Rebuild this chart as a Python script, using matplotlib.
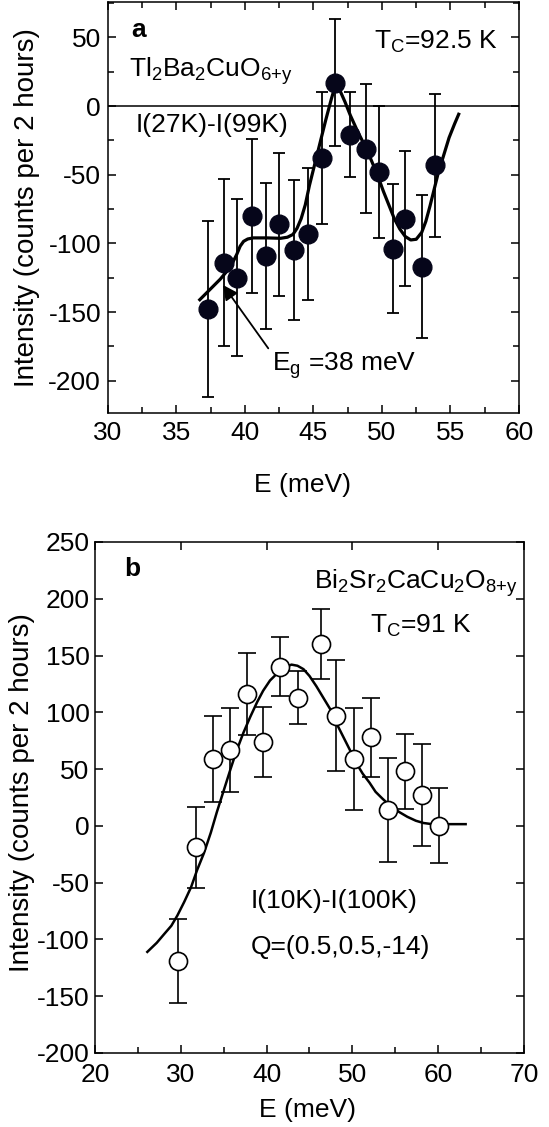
import matplotlib
matplotlib.use('Agg')
import matplotlib.pyplot as plt
from matplotlib.ticker import MultipleLocator

plt.rcParams['font.family'] = ['Liberation Sans', 'DejaVu Sans']
plt.rcParams['mathtext.default'] = 'regular'
plt.rcParams['axes.unicode_minus'] = False

# panel a: Tl2Ba2CuO6+y, I(27K)-I(99K)
E_a = [37.3, 38.5, 39.4, 40.5, 41.5, 42.5, 43.6, 44.6, 45.6, 46.6, 47.7,
       48.8, 49.8, 50.8, 51.7, 52.9, 53.9]
I_a = [-148, -114, -125, -80, -109, -86, -105, -93, -38, 17, -21,
       -31, -48, -104, -82, -117, -43]
err_a = [64, 61, 57, 56, 53, 52, 51, 48, 48, 46, 31,
         47, 48, 47, 49, 52, 52]
fitE_a = [36.7, 37.2, 37.7, 38.2, 38.7, 39.1, 39.4, 39.65, 39.9, 40.2, 40.6,
          41.6, 42.6, 43.1, 43.5, 43.8, 44.1, 44.4, 44.7, 45.1, 45.5, 45.9,
          46.3, 46.65, 46.9, 47.3, 47.7, 48.2, 48.7, 49.2, 49.7, 50.1, 50.5,
          50.9, 51.3, 51.7, 52.1, 52.5, 52.9, 53.2, 53.5, 53.8, 54.1, 54.5,
          54.9, 55.3, 55.6]
fitI_a = [-141, -136, -131, -126, -120, -114, -108, -102, -98.5, -96.8, -96,
          -96, -96.3, -95.5, -93.5, -89, -82, -72, -58, -42, -26, -10,
          5, 17, 12, 3, -7, -18, -28, -39, -51, -62, -72,
          -82, -89.5, -95, -97.5, -97, -92, -84, -73, -61, -49, -36,
          -23, -13, -6]

# panel b: Bi2Sr2CaCu2O8+y, I(10K)-I(100K)
E_b = [29.7, 31.8, 33.7, 35.7, 37.7, 39.6, 41.6, 43.7, 46.3, 48.1, 50.2,
       52.2, 54.1, 56.1, 58.1, 60.1]
I_b = [-119, -19, 59, 67, 116, 74, 140, 113, 160, 97, 59,
       78, 14, 48, 27, 0]
err_b = [37, 36, 38, 37, 36, 31, 26, 23, 31, 49, 45,
         35, 46, 33, 45, 33]
fitE_b = [26.1, 27.2, 28.1, 28.9, 29.6, 30.4, 31.2, 31.9, 32.7, 33.5, 34.2,
          35.0, 35.8, 36.5, 37.3, 38.1, 38.9, 39.6, 40.4, 41.2, 42.0, 42.9,
          43.6, 44.3, 45.0, 45.8, 46.6, 47.4, 48.1, 48.9, 49.7, 50.4, 51.2,
          52.0, 52.7, 53.5, 54.5, 55.5, 56.4, 57.4, 58.3, 59.3, 61.0, 63.2]
fitI_b = [-111, -103, -95, -88, -79, -67, -54, -39, -24, -6, 12,
          31, 50, 66, 82, 96, 109, 119, 128, 134, 139, 142,
          141, 138, 132, 123, 113, 103, 91, 79, 67, 56, 46,
          38, 30, 24, 17, 12, 8, 4.5, 2.5, 1.5, 1.5, 1.5]

fig = plt.figure(figsize=(5.49, 11.27), dpi=100)

# ---- panel a ----
ax1 = fig.add_axes([0.1967, 0.6335, 0.7486, 0.3647])
ax1.axhline(0, color='k', lw=1.1)
ax1.errorbar(E_a, I_a, yerr=err_a, fmt='o', ms=13.5, mfc='#06061a', mec='#06061a',
             ecolor='k', elinewidth=1.3, capsize=4.5, capthick=1.3)
ax1.plot(fitE_a, fitI_a, color='k', lw=2.3, solid_joinstyle='round')
ax1.set_xlim(30, 60)
ax1.set_ylim(-223.5, 75.7)
ax1.xaxis.set_major_locator(MultipleLocator(5))
ax1.xaxis.set_minor_locator(MultipleLocator(2.5))
ax1.yaxis.set_major_locator(MultipleLocator(50))
ax1.yaxis.set_minor_locator(MultipleLocator(25))
ax1.tick_params(which='both', direction='in', top=True, right=True,
                labelsize=19, width=1.1)
ax1.tick_params(which='major', length=6)
ax1.tick_params(which='minor', length=4)
ax1.tick_params(axis='x', pad=6)
ax1.tick_params(axis='y', pad=5)
ax1.set_xlabel('E (meV)', fontsize=19)
ax1.set_ylabel('Intensity (counts per 2 hours)', fontsize=20)
ax1.xaxis.set_label_coords(0.473, -0.146)
ax1.yaxis.set_label_coords(-0.165, 0.5)
for s in ax1.spines.values():
    s.set_linewidth(1.1)

ax1.text(31.7, 50, 'a', fontsize=19, fontweight='bold')
ax1.text(49.4, 42, r'T$_C$=92.5 K', fontsize=19)
ax1.text(31.5, 21, r'Tl$_2$Ba$_2$CuO$_{6{+}y}$', fontsize=19)
ax1.text(32.0, -18.7, 'I(27K)-I(99K)', fontsize=19)
ax1.text(41.95, -192.6, r'E$_g$ =38 meV', fontsize=19)
ax1.annotate('', xy=(38.4, -130.3), xytext=(41.7, -176.4),
             arrowprops=dict(arrowstyle='-|>', color='k', lw=1.3,
                             mutation_scale=22, shrinkA=0, shrinkB=0))

# ---- panel b ----
ax2 = fig.add_axes([0.1730, 0.0657, 0.7814, 0.4534])
ax2.errorbar(E_b, I_b, yerr=err_b, fmt='o', ms=13, mfc='white', mec='k', mew=1.2,
             ecolor='k', elinewidth=1.2, capsize=6.5, capthick=1.2, zorder=3)
ax2.plot(fitE_b, fitI_b, color='k', lw=1.8, zorder=2)
ax2.set_xlim(20, 70)
ax2.set_ylim(-200, 250)
ax2.xaxis.set_major_locator(MultipleLocator(10))
ax2.xaxis.set_minor_locator(MultipleLocator(5))
ax2.yaxis.set_major_locator(MultipleLocator(50))
ax2.tick_params(which='both', direction='in', top=True, right=True,
                labelsize=19, width=1.1)
ax2.tick_params(which='major', length=6)
ax2.tick_params(which='minor', length=4, top=False)
ax2.tick_params(axis='x', pad=7.5)
ax2.tick_params(axis='y', pad=4)
ax2.set_xlabel('E (meV)', fontsize=19)
ax2.set_ylabel('Intensity (counts per 2 hours)', fontsize=20)
ax2.xaxis.set_label_coords(0.496, -0.088)
ax2.yaxis.set_label_coords(-0.14, 0.51)
for s in ax2.spines.values():
    s.set_linewidth(1.1)

ax2.text(23.4, 226, 'b', fontsize=19, fontweight='bold', va='center')
ax2.text(69.3, 209, r'Bi$_2$Sr$_2$CaCu$_2$O$_{8{+}y}$', fontsize=19, ha='right')
ax2.text(52.0, 170, r'T$_C$=91 K', fontsize=19)
ax2.text(38.1, -72.5, 'I(10K)-I(100K)', fontsize=19)
ax2.text(38.1, -113, 'Q=(0.5,0.5,-14)', fontsize=19)

fig.savefig('out.png', dpi=100)
